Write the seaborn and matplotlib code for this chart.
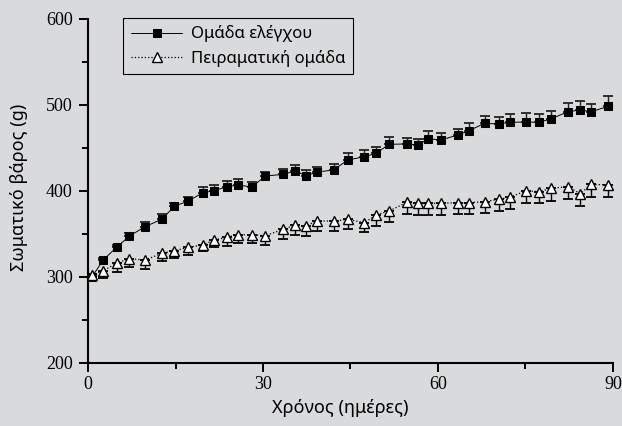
import numpy as np
import pandas as pd
import matplotlib
matplotlib.use("Agg")
import matplotlib.pyplot as plt
import seaborn as sns

days = [0.7, 2.6, 4.9, 7.1, 9.8, 12.7, 14.8, 17.2, 19.7, 21.6, 23.8, 25.7, 28.1,
        30.4, 33.5, 35.5, 37.4, 39.2, 42.1, 44.5, 47.4, 49.4, 51.6, 54.7, 56.6, 58.3,
        60.5, 63.4, 65.3, 68.0, 70.4, 72.3, 75.1, 77.3, 79.3, 82.3, 84.4, 86.3, 89.2]

control = [300.3, 319.8, 334.5, 347.7, 358.5, 367.4, 382.2, 388.4, 398.0, 400.3, 405.0, 407.0, 404.7,
           417.4, 419.4, 423.3, 417.8, 422.0, 424.4, 436.0, 439.9, 443.8, 454.3, 454.7, 453.5, 460.8,
           459.3, 465.1, 470.1, 478.7, 477.9, 479.9, 480.2, 479.9, 483.7, 492.2, 494.2, 492.2, 498.5]
control_err = [2, 2, 3, 3, 6, 6, 4, 5, 6.5, 6.5, 6.5, 6.5, 5.5,
               5, 6, 7, 6.5, 6, 6.5, 8.5, 8, 7, 8, 7.5, 6.5, 9,
               8.5, 7, 8.5, 8.5, 8, 9.5, 11, 10, 9.5, 10.5, 11, 8.5, 12]

experimental = [302.3, 307.3, 315.9, 321.3, 319.8, 327.6, 330.6, 334.5, 337.2, 343.0, 346.2, 349.2, 349.2,
                348.0, 355.5, 360.5, 359.3, 365.1, 365.1, 367.1, 363.1, 372.1, 376.7, 386.9, 386.0, 385.7,
                385.7, 386.4, 386.4, 387.6, 390.3, 392.7, 400.3, 399.2, 403.1, 405.0, 396.9, 407.8, 407.0]
experimental_err = [0, 8, 10, 10, 10, 9, 9, 9, 7, 8.5, 10, 10, 10,
                    10.8, 11.6, 11.6, 11.6, 11.6, 11.6, 11.6, 10.5, 12.8, 12.4, 13.6, 13.6, 13.6,
                    13.6, 13.1, 13.1, 12.8, 13.6, 13.6, 14, 13.6, 14.3, 14.8, 14.3, 14.3, 13.6]

x_major = [0, 30, 60, 90]
x_minor = [15, 45, 75]
y_major = [200, 300, 400, 500, 600]
y_minor = [250, 350, 450, 550]

label_control = "Ομάδα ελέγχου"
label_exp = "Πειραματική ομάδα"
xlabel = "Χρόνος (ημέρες)"
ylabel = "Σωματικό βάρος (g)"

bg = "#d9dadc"
sns.set_theme(style="ticks")
plt.rcParams["font.family"] = ["Noto Sans", "DejaVu Sans"]

fig = plt.figure(figsize=(6.22, 4.26), dpi=100, facecolor=bg)
ax = fig.add_axes([0.1415, 0.1479, 0.844, 0.8075])
ax.set_facecolor(bg)

df = pd.DataFrame({"day": days, "control": control, "exp": experimental})

# one-sided error bars
ax.errorbar(days, control, yerr=[np.zeros(len(control)), control_err], fmt="none",
            ecolor="#222222", elinewidth=1.0, capsize=3.6, capthick=1.3, zorder=2)
ax.errorbar(days, experimental, yerr=[experimental_err, np.zeros(len(experimental))], fmt="none",
            ecolor="black", elinewidth=1.0, capsize=3.6, capthick=1.3, zorder=2)

sns.lineplot(data=df, x="day", y="control", ax=ax, color="black", linewidth=0.7,
             linestyle="-", marker="s", markersize=6.0, markerfacecolor="black",
             markeredgecolor="black", label=label_control, zorder=3, clip_on=False)
sns.lineplot(data=df, x="day", y="exp", ax=ax, color="black", linewidth=0.9,
             linestyle=":", marker="^", markersize=7.0, markerfacecolor="white",
             markeredgecolor="black", markeredgewidth=1.0, label=label_exp, zorder=3,
             clip_on=False)

ax.set_xlim(0, 90)
ax.set_ylim(200, 600)
ax.set_xticks(x_major)
ax.set_xticks(x_minor, minor=True)
ax.set_yticks(y_major)
ax.set_yticks(y_minor, minor=True)
ax.set_xticklabels([str(v) for v in x_major], fontfamily="Liberation Serif", fontsize=13)
ax.set_yticklabels([str(v) for v in y_major], fontfamily="Liberation Serif", fontsize=13)

for side in ["top", "right"]:
    ax.spines[side].set_visible(False)
for side in ["left", "bottom"]:
    ax.spines[side].set_linewidth(1.5)
    ax.spines[side].set_color("black")

ax.tick_params(which="major", direction="out", length=6.5, width=1.4, color="black",
               labelcolor="black")
ax.tick_params(which="minor", direction="out", length=4.2, width=1.4, color="black")
ax.tick_params(axis="y", which="major", pad=4.5)
ax.tick_params(axis="x", which="major", pad=3)

ax.set_xlabel(xlabel, fontsize=13, color="black")
ax.set_ylabel(ylabel, fontsize=13, color="black")
ax.xaxis.set_label_coords(0.48, -0.105)
ax.yaxis.set_label_coords(-0.115, 0.51)

leg = ax.legend(loc="upper left", bbox_to_anchor=(0.067, 1.003), borderaxespad=0,
                frameon=True, fancybox=False, fontsize=12, handlelength=3.1,
                handletextpad=0.5, borderpad=0.45, labelspacing=0.45)
leg.get_frame().set_facecolor(bg)
leg.get_frame().set_edgecolor("black")
leg.get_frame().set_linewidth(0.8)
leg.get_frame().set_alpha(1)
for t in leg.get_texts():
    t.set_color("black")

fig.savefig("out.png", dpi=100, facecolor=bg)
